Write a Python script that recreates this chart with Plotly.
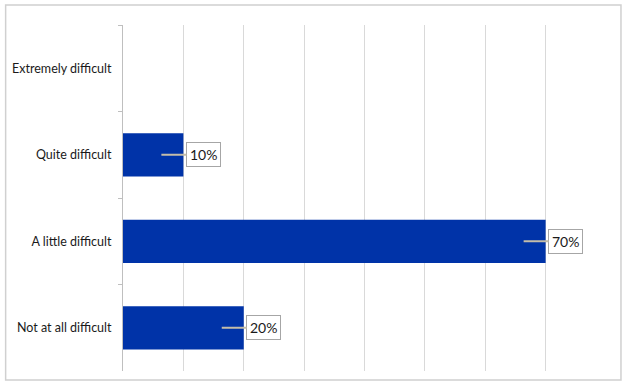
import plotly.graph_objects as go

categories = ["Extremely difficult", "Quite difficult", "A little difficult", "Not at all difficult"]
values = [0, 10, 70, 20]
labels = ["", "10%", "70%", "20%"]
x_ticks = [0, 10, 20, 30, 40, 50, 60, 70, 80]

BAR = "#0033a8"
GRID = "#d9d9d9"
TEXT = "#1a1a1a"
FONT = "Lato"

fig = go.Figure(
    go.Bar(
        x=values,
        y=categories,
        orientation="h",
        marker=dict(color=BAR, line=dict(width=0)),
        hoverinfo="skip",
    )
)

for cat, val, lab in zip(categories, values, labels):
    if not lab:
        continue
    fig.add_annotation(
        x=val,
        y=cat,
        xref="x",
        yref="y",
        text=lab,
        showarrow=True,
        arrowhead=0,
        arrowwidth=2,
        arrowcolor="#c4bda9",
        ax=42,
        ay=0,
        xshift=-22,
        bgcolor="white",
        bordercolor="#a6a6a6",
        borderwidth=1,
        borderpad=3,
        font=dict(family=FONT, size=14, color=TEXT),
    )

# outer chart border
fig.add_shape(
    type="rect",
    xref="paper",
    yref="paper",
    x0=-0.243,
    x1=1.031,
    y0=-0.026,
    y1=1.058,
    line=dict(color="#d0d0d0", width=1.5),
    fillcolor="rgba(0,0,0,0)",
    layer="below",
)

fig.update_layout(
    width=624,
    height=390,
    margin=dict(l=119, r=18, t=25, b=19),
    paper_bgcolor="white",
    plot_bgcolor="white",
    bargap=0.5,
    showlegend=False,
    font=dict(family=FONT, size=13, color=TEXT),
    xaxis=dict(
        range=[0, 80],
        tickvals=x_ticks,
        showticklabels=False,
        showgrid=True,
        gridcolor=GRID,
        gridwidth=1,
        zeroline=False,
        showline=False,
        ticks="",
        fixedrange=True,
    ),
    yaxis=dict(
        autorange="reversed",
        type="category",
        showline=True,
        linecolor="#bfbfbf",
        linewidth=1,
        ticks="outside",
        tickson="boundaries",
        ticklen=4,
        tickcolor="#bfbfbf",
        ticklabelstandoff=8,
        showgrid=False,
        tickfont=dict(family=FONT, size=12.5, color=TEXT),
        fixedrange=True,
    ),
)

fig.write_html(
    "out.html",
    config={"displayModeBar": False},
    post_script="document.body.style.margin='0';",
)
